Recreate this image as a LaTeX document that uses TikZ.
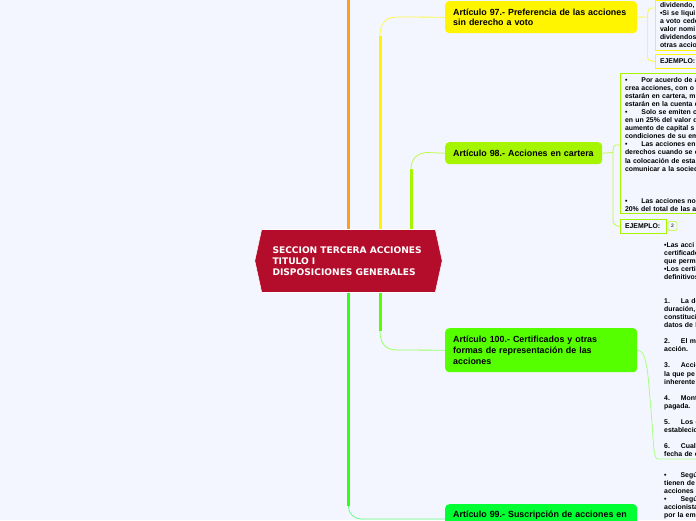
\documentclass[tikz,border=0pt]{standalone}
\usepackage{fontspec}
\setmainfont{Liberation Sans}
\newfontfamily\secfont{DejaVu Sans}
\usetikzlibrary{positioning}
\definecolor{pagebg}{HTML}{F3F6FF}
\definecolor{secred}{HTML}{B30D2B}
\definecolor{artyellow}{HTML}{FFF500}
\definecolor{artlime}{HTML}{A6F500}
\definecolor{artgreen}{HTML}{55FF00}
\definecolor{artmint}{HTML}{00FF33}
\definecolor{lineorange}{HTML}{FF9D1E}
\tikzset{
  artbox/.style={rectangle,rounded corners=4pt,inner xsep=8pt,inner ysep=0pt,align=left,anchor=north west,font=\fontsize{8.9}{10.6}\selectfont\bfseries,text=black},
  subbox/.style={rectangle,draw,line width=1pt,fill=pagebg,inner xsep=4.5pt,inner ysep=2.5pt,align=left,anchor=north west,text width=140pt,font=\fontsize{6.9}{8.05}\selectfont\bfseries,text=black},
  plainbox/.style={rectangle,inner sep=0pt,align=left,anchor=north west,text width=100pt,font=\fontsize{6.9}{8.05}\selectfont\bfseries,text=black},
  thick line/.style={line width=3pt},
  thin line/.style={line width=0.8pt}
}
\begin{document}
\begin{tikzpicture}[x=1pt,y=-1pt]
\useasboundingbox (0,0) rectangle (696,520);
\clip (0,0) rectangle (696,520);
\fill[pagebg] (0,0) rectangle (696,520);

\node[artbox,fill=artyellow,minimum width=192pt,minimum height=32pt,text width=176pt] (art97) at (445,1) {Artículo 97.- Preferencia de las acciones\\sin derecho a voto};

\node[artbox,fill=artlime,minimum width=157pt,minimum height=22pt,text width=141pt] (art98) at (445,142) {Artículo 98.- Acciones en cartera};

\node[artbox,fill=artgreen,minimum width=192pt,minimum height=44pt,text width=176pt] (art100) at (445,328) {Artículo 100.- Certificados y otras\\formas de representación de las\\acciones};

\node[artbox,fill=artmint,minimum width=192pt,minimum height=22pt,text width=176pt] (art99) at (445,504) {Artículo 99.- Suscripción de acciones en};

\node[subbox,draw=artyellow,anchor=south west] (sub97) at (655,51) {dividendo,\\•Si se liqui\\a voto cede\\valor nomi\\dividendos\\otras accio};

\node[subbox,draw=artyellow,text width=40pt,inner ysep=0pt,minimum height=14pt] (ej97) at (655,54) {EJEMPLO:};

\node[subbox,draw=artlime] (sub98) at (620,73) {\rule{0pt}{6.5pt}•\hspace{14pt}Por acuerdo de a\\crea acciones, con o\\estarán en cartera, m\\estarán en la cuenta d\\•\hspace{14pt}Solo se emiten c\\en un 25\% del valor d\\aumento de capital s\\condiciones de su em\\•\hspace{14pt}Las acciones en\\derechos cuando se e\\la colocación de esta\\comunicar a la socied\\[24.15pt]•\hspace{14pt}Las acciones no\\20\% del total de las a};

\node[subbox,draw=artlime,text width=37pt,inner ysep=0pt,minimum height=14pt] (ej98) at (620,219) {EJEMPLO:};

\node[rectangle,draw=artlime!60,fill=pagebg,rounded corners=2pt,line width=0.8pt,inner sep=0pt,minimum width=9pt,minimum height=9pt,font=\fontsize{5}{5}\selectfont\bfseries,text=black!70] (num98) at (672.5,226) {2};

\node[plainbox] (txt100) at (664,242) {•Las acci\\certificado\\que perm\\•Los certi\\definitivos\\[16.1pt]1.\hspace{11pt}La de\\duración,\\constituci\\datos de l\\[8.05pt]2.\hspace{11pt}El mo\\acción.\\[8.05pt]3.\hspace{11pt}Accio\\la que pe\\inherente\\[8.05pt]4.\hspace{11pt}Mont\\pagada.\\[8.05pt]5.\hspace{11pt}Los g\\establecio\\[8.05pt]6.\hspace{11pt}Cuale\\fecha de e};

\node[plainbox] (txt100b) at (664,472) {•\hspace{14pt}Segú\\tienen de\\acciones\\•\hspace{14pt}Segú\\accionista\\por la emi};

\coordinate (O1) at (348.5,229);
\coordinate (O2) at (348.5,0);
\coordinate (Y1) at (380,229);
\coordinate (Y2) at (380,36);
\coordinate (L1) at (411,229);
\coordinate (L2) at (411,169);
\coordinate (G1) at (380,293);
\coordinate (G2) at (380,331);
\coordinate (M1) at (348.5,293);
\coordinate (M2) at (348.5,506);
\coordinate (U1) at (658,459);
\coordinate (U2) at (696,459);
\coordinate (B1) at (647.5,17);
\coordinate (B2) at (613,152.5);
\coordinate (M3) at (445,519);

\draw[lineorange,thick line] (O1) -- (O2);

\draw[artyellow,thick line] (Y1) -- (Y2);

\draw[artyellow!70,thin line] (Y2) .. controls (380,23) and (386,17) .. (397,17) -- (art97.west);

\draw[artlime,thick line] (L1) -- (L2);

\draw[artlime!70,thin line] (L2) .. controls (411,159) and (417,153) .. (427,152.5) -- (art98.west);

\draw[artgreen,thick line] (G1) -- (G2);

\draw[artgreen!60,thin line] (G2) .. controls (380,344) and (386,350) .. (397,350) -- (art100.west);

\draw[artmint!40!artgreen,thick line] (M1) -- (M2);

\draw[artmint!60,thin line] (M2) .. controls (348.5,514) and (354,519) .. (362,519) -- (M3);

\draw[artyellow!70,thin line] (art97.east) -- (B1);

\draw[artyellow!70,thin line] (655,8) -- (652,8) .. controls (649,8) and (647.5,9.5) .. (B1) -- (647.5,56) .. controls (647.5,59.5) and (649,61) .. (ej97.west);

\draw[artlime!70,thin line] (art98.east) -- (B2);

\draw[artlime!70,thin line] (sub98.west |- 0,145) -- (617,145) .. controls (614,145) and (613,146.5) .. (B2) -- (613,219) .. controls (613,224) and (615,226) .. (ej98.west);

\draw[artgreen!50,thin line] (art100.east) .. controls (648,350) and (648,380) .. (651,410) .. controls (654,445) and (653,459) .. (U1) -- (U2);

\node[rectangle,fill=secred,inner sep=0pt,minimum width=173pt,minimum height=63.5pt,text width=152pt,align=left,text=white,font=\secfont\fontsize{9.1}{11}\selectfont\bfseries] (sec) at (348.5,260.75) {SECCION TERCERA ACCIONES\\TITULO I\\DISPOSICIONES GENERALES};

\draw[white,fill=secred,line width=0.5pt] (sec.north east) -- ([xshift=7pt]sec.east) -- (sec.south east);

\draw[white,fill=secred,line width=0.5pt] (sec.north west) -- ([xshift=-7pt]sec.west) -- (sec.south west);

\draw[white,line width=0.5pt] (sec.north west) -- (sec.north east);

\draw[white,line width=0.5pt] (sec.south west) -- (sec.south east);
\end{tikzpicture}
\end{document}
